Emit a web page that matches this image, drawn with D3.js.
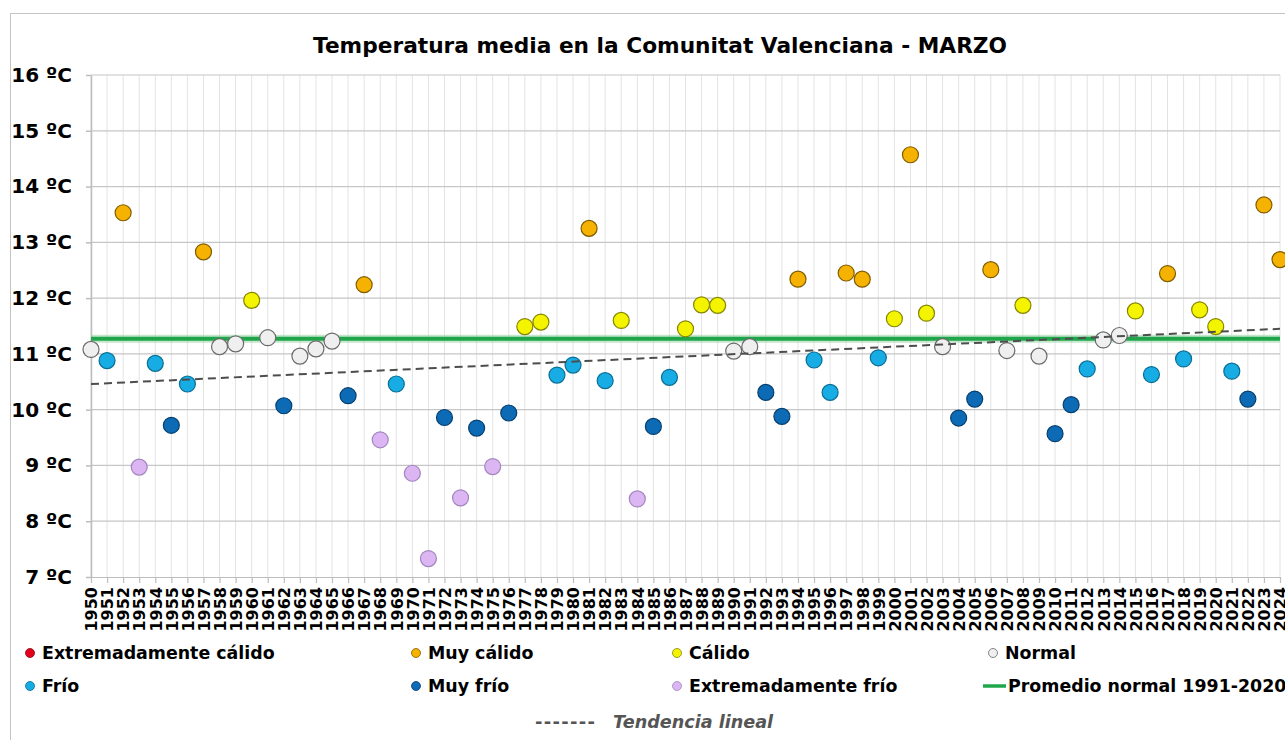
<!doctype HTML>
<html>
<head>
    <script src="https://d3js.org/d3.v7.min.js"></script>
    <style>
        body { margin: 0; background: #fff; }
        text { font-family: "DejaVu Sans", Verdana, sans-serif; }
    </style>
</head>
<body>
<script>
    // data
    var years = d3.range(1950, 2025);
    var temps = [11.08, 10.88, 13.53, 8.97, 10.83, 9.72, 10.46, 12.83, 11.13, 11.18,
                 11.96, 11.29, 10.07, 10.96, 11.09, 11.23, 10.25, 12.24, 9.46, 10.46,
                 8.86, 7.33, 9.86, 8.42, 9.67, 8.98, 9.94, 11.49, 11.57, 10.62,
                 10.80, 13.25, 10.52, 11.60, 8.40, 9.70, 10.58, 11.45, 11.88, 11.87,
                 11.05, 11.13, 10.31, 9.88, 12.34, 10.89, 10.31, 12.45, 12.34, 10.93,
                 11.63, 14.57, 11.73, 11.13, 9.85, 10.19, 12.51, 11.06, 11.87, 10.96,
                 9.57, 10.09, 10.73, 11.25, 11.33, 11.77, 10.63, 12.44, 10.91, 11.79,
                 11.49, 10.69, 10.19, 13.67, 12.69];
    var cats = ["N","F","MC","EF","F","MF","F","MC","N","N",
                "C","N","MF","N","N","N","MF","MC","EF","F",
                "EF","EF","MF","EF","MF","EF","MF","C","C","F",
                "F","MC","F","C","EF","MF","F","C","C","C",
                "N","N","MF","MF","MC","F","F","MC","MC","F",
                "C","MC","C","N","MF","MF","MC","N","C","N",
                "MF","MF","F","N","N","C","F","MC","F","C",
                "C","F","MF","MC","MC"];
    var normal9120 = 11.27;
    var trendEnds = [10.46, 11.45];   // tendencia lineal at 1950 and 2024
    var yTicks = [7, 8, 9, 10, 11, 12, 13, 14, 15, 16];

    var catCodes = ["EC", "MC", "C", "N", "F", "MF", "EF"];
    var catNames = ["Extremadamente cálido", "Muy cálido", "Cálido", "Normal",
                    "Frío", "Muy frío", "Extremadamente frío"];
    var catFill = ["#e3001b", "#f6b200", "#f4f400", "#efefef", "#17ade4", "#0d6bb6", "#dbb6f3"];
    var catStroke = ["#8a0010", "#7f5c00", "#858500", "#6a6a6a", "#0a6d94", "#063f6e", "#a286bd"];

    var canvasWidth = 1285;
    var canvasHeight = 740;

    var svg = d3.select("body").append("svg")
        .attr("width", canvasWidth)
        .attr("height", canvasHeight);

    // outer chart border
    svg.append("rect")
        .attr("x", 10.5).attr("y", 13.5)
        .attr("width", 1300).attr("height", 800)
        .attr("fill", "none")
        .attr("stroke", "#c4c4c4");

    var plotLeft = 91, plotRight = 1280, plotTop = 75, plotBottom = 577;

    var xScale = d3.scaleLinear().domain([1950, 2024]).range([plotLeft, plotRight]);
    var yScale = d3.scaleLinear().domain([7, 16]).range([plotBottom, plotTop]);

    var fillScale = d3.scaleOrdinal().domain(catCodes).range(catFill);
    var strokeScale = d3.scaleOrdinal().domain(catCodes).range(catStroke);

    // grid
    svg.append("g").selectAll("line")
        .data(years).enter().append("line")
        .attr("x1", function(d) { return xScale(d); })
        .attr("x2", function(d) { return xScale(d); })
        .attr("y1", plotTop).attr("y2", plotBottom)
        .attr("stroke", "#e3e3e3").attr("stroke-width", 1);
    svg.append("g").selectAll("line")
        .data(yTicks.slice(1)).enter().append("line")
        .attr("x1", plotLeft).attr("x2", plotRight)
        .attr("y1", function(d) { return yScale(d); })
        .attr("y2", function(d) { return yScale(d); })
        .attr("stroke", "#c6c6c6").attr("stroke-width", 1.2);

    //y axis
    var yAxis = svg.append("g")
        .attr("transform", "translate(" + plotLeft + ",0)")
        .call(d3.axisLeft(yScale).tickValues(yTicks)
            .tickFormat(function(d) { return d + " ºC"; })
            .tickSize(5).tickSizeOuter(0).tickPadding(14));
    yAxis.selectAll("text")
        .attr("font-size", "20px").attr("font-weight", "bold").attr("fill", "#000");
    yAxis.selectAll("line, path").attr("stroke", "#bdbdbd").attr("stroke-width", 1.5);

    //x axis
    var xAxis = svg.append("g")
        .attr("transform", "translate(0," + plotBottom + ")")
        .call(d3.axisBottom(xScale).tickValues(years)
            .tickFormat(function(d) { return d; })
            .tickSize(6).tickSizeOuter(0));
    xAxis.selectAll("line, path").attr("stroke", "#bdbdbd").attr("stroke-width", 1.2);
    xAxis.selectAll("text")
        .attr("font-size", "16px").attr("font-weight", "bold").attr("fill", "#000")
        .attr("transform", "rotate(-90)")
        .attr("text-anchor", "end")
        .attr("x", -10).attr("y", 0).attr("dy", "0.36em");

    // promedio normal 1991-2020
    svg.append("line")
        .attr("x1", plotLeft).attr("x2", plotRight)
        .attr("y1", yScale(normal9120)).attr("y2", yScale(normal9120))
        .attr("stroke", "#9fd3ab").attr("stroke-opacity", 0.6).attr("stroke-width", 8);
    svg.append("line")
        .attr("x1", plotLeft).attr("x2", plotRight)
        .attr("y1", yScale(normal9120)).attr("y2", yScale(normal9120))
        .attr("stroke", "#1fa64a").attr("stroke-width", 4);

    // points
    svg.append("g").selectAll("circle")
        .data(years).enter().append("circle")
        .attr("cx", function(d) { return xScale(d); })
        .attr("cy", function(d, i) { return yScale(temps[i]); })
        .attr("r", 8)
        .attr("fill", function(d, i) { return fillScale(cats[i]); })
        .attr("stroke", function(d, i) { return strokeScale(cats[i]); })
        .attr("stroke-width", 1.2);

    // tendencia lineal
    svg.append("line")
        .attr("x1", xScale(1950)).attr("x2", xScale(2024))
        .attr("y1", yScale(trendEnds[0])).attr("y2", yScale(trendEnds[1]))
        .attr("stroke", "#4d4d4d").attr("stroke-width", 2)
        .attr("stroke-dasharray", "8,5");

    // title
    svg.append("text")
        .attr("x", 660).attr("y", 53)
        .attr("text-anchor", "middle")
        .attr("font-size", "21.7px").attr("font-weight", "bold")
        .text("Temperatura media en la Comunitat Valenciana - MARZO");

    // legend
    var legX = [30, 416, 677, 993];
    var legY = [653, 686];
    var legend = svg.append("g");
    catCodes.forEach(function(c, i) {
        var lx = legX[i % 4], ly = legY[Math.floor(i / 4)];
        legend.append("circle")
            .attr("cx", lx).attr("cy", ly).attr("r", 4.5)
            .attr("fill", fillScale(c)).attr("stroke", strokeScale(c)).attr("stroke-width", 0.8);
        legend.append("text")
            .attr("x", lx + 12).attr("y", ly).attr("dy", "0.36em")
            .attr("font-size", "17.4px").attr("font-weight", "bold")
            .text(catNames[i]);
    });
    legend.append("line")
        .attr("x1", 983).attr("x2", 1006)
        .attr("y1", legY[1]).attr("y2", legY[1])
        .attr("stroke", "#1fa64a").attr("stroke-width", 3.5);
    legend.append("text")
        .attr("x", 1008).attr("y", legY[1]).attr("dy", "0.36em")
        .attr("font-size", "17.4px").attr("font-weight", "bold")
        .text("Promedio normal 1991-2020");

    legend.append("text")
        .attr("x", 535).attr("y", 722).attr("dy", "0.36em")
        .attr("font-size", "18px").attr("font-weight", "bold").attr("fill", "#555")
        .attr("letter-spacing", "1.3px")
        .text("-------");
    legend.append("text")
        .attr("x", 613).attr("y", 722).attr("dy", "0.36em")
        .attr("font-size", "17.6px").attr("font-weight", "bold").attr("font-style", "italic")
        .attr("fill", "#555")
        .text("Tendencia lineal");
</script>
</body>
</html>
